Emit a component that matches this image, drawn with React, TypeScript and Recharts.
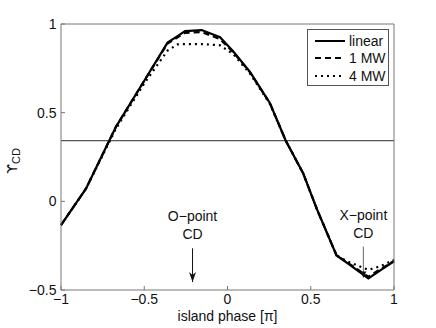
import { LineChart, Line, XAxis, YAxis, ReferenceLine, Legend } from 'recharts';

// island phase (units of pi) and Upsilon_CD for the three cases
const phase = [-1, -0.85, -0.67, -0.5, -0.36, -0.3, -0.255, -0.155, -0.045, 0.035, 0.135, 0.255, 0.35, 0.455, 0.535, 0.655, 0.72, 0.846, 0.92, 1];
const linear = [-0.134, 0.071, 0.42, 0.68, 0.895, 0.932, 0.96, 0.966, 0.925, 0.845, 0.73, 0.553, 0.342, 0.157, -0.04, -0.305, -0.349, -0.435, -0.388, -0.338];
const mw1 = [-0.134, 0.071, 0.42, 0.68, 0.89, 0.925, 0.95, 0.955, 0.915, 0.84, 0.728, 0.553, 0.342, 0.157, -0.04, -0.305, -0.345, -0.425, -0.382, -0.336];
const mw4 = [-0.134, 0.071, 0.41, 0.665, 0.85, 0.885, 0.887, 0.887, 0.88, 0.83, 0.72, 0.548, 0.342, 0.157, -0.04, -0.305, -0.338, -0.387, -0.365, -0.33];

const xTicks = [-1, -0.5, 0, 0.5, 1];
const yTicks = [-0.5, 0, 0.5, 1];
const threshold = 0.342;

// annotations: label lines, arrow x, arrow top / bottom
const oPoint = { lines: ['O\u2212point', 'CD'], x: -0.21, top: -0.265, bottom: -0.455 };
const xPoint = { lines: ['X\u2212point', 'CD'], x: 0.816, top: -0.255, bottom: -0.43 };

const series = [
  { key: 'linear', name: 'linear', dash: undefined },
  { key: 'mw1', name: '1 MW', dash: '6 4' },
  { key: 'mw4', name: '4 MW', dash: '2 4' },
];

const data = phase.map((p, i) => ({ x: p, linear: linear[i], mw1: mw1[i], mw4: mw4[i] }));

const FONT = '"Liberation Sans", Arial, sans-serif';
const fmt = (v: number) => String(v).replace('-', '\u2212');

const arrowShape = (ann: typeof oPoint, filled: boolean) => (props: any) => {
  const { x1, y1, x2, y2 } = props;
  return (
    <g>
      <text x={x1} y={y1 - 27} textAnchor="middle" fontSize={14} fontFamily={FONT} fill="#111">{ann.lines[0]}</text>
      <text x={x1} y={y1 - 9} textAnchor="middle" fontSize={14} fontFamily={FONT} fill="#111">{ann.lines[1]}</text>
      <line x1={x1} y1={y1} x2={x2} y2={y2} stroke={filled ? '#111' : '#666'} strokeWidth={1} />
      {filled ? (
        <polygon points={`${x2},${y2} ${x2 - 3.5},${y2 - 10} ${x2},${y2 - 7} ${x2 + 3.5},${y2 - 10}`} fill="#111" />
      ) : (
        <polygon points={`${x2},${y2} ${x2 - 3},${y2 - 6} ${x2 + 3},${y2 - 6}`} fill="#111" />
      )}
    </g>
  );
};

const YLabel = ({ viewBox }: any) => {
  const cx = viewBox.x + 16;
  const cy = viewBox.y + viewBox.height / 2 + 4;
  return (
    <text x={cx} y={cy} transform={`rotate(-90 ${cx} ${cy})`} textAnchor="middle" fontFamily='"DejaVu Sans", sans-serif' fontSize={14} fill="#111">
      {'\u03d2'}
      <tspan dy={3} fontFamily={FONT} fontSize={11}>CD</tspan>
    </text>
  );
};

const XLabel = ({ viewBox }: any) => (
  <text x={viewBox.x + viewBox.width / 2} y={viewBox.y + 31} textAnchor="middle" fontFamily={FONT} fontSize={14} fill="#111">
    island phase [{'\u03c0'}]
  </text>
);

const LegendBox = () => (
  <div style={{ border: '1px solid #555', background: '#fff', paddingTop: 2, fontFamily: FONT, fontSize: 14, color: '#111', width: 80 }}>
    {series.map((s) => (
      <div key={s.key} style={{ display: 'flex', alignItems: 'center', height: 17.5 }}>
        <svg width={35} height={10} style={{ marginLeft: 6 }}>
          <line x1={1} y1={5} x2={31} y2={5} stroke="#000" strokeWidth={2} strokeDasharray={s.dash} />
        </svg>
        <span>{s.name}</span>
      </div>
    ))}
  </div>
);

export default function App() {
  return (
    <div style={{ position: 'absolute', left: 0, top: 0, background: '#fff' }}>
      <LineChart width={436} height={328} data={data} margin={{ top: 23, right: 41, bottom: 8, left: 1 }}>
        <XAxis
          dataKey="x"
          type="number"
          domain={[-1, 1]}
          ticks={xTicks}
          tickFormatter={fmt}
          tickSize={-4}
          tickMargin={8}
          height={30}
          stroke="#777"
          tick={{ fill: '#111', fontSize: 14, fontFamily: FONT }}
          label={<XLabel />}
        />
        <XAxis xAxisId="top" orientation="top" type="number" domain={[-1, 1]} ticks={xTicks} tick={false} tickSize={-4} height={1} stroke="#777" />
        <YAxis
          type="number"
          domain={[-0.5, 1]}
          ticks={yTicks}
          tickFormatter={fmt}
          tickSize={-4}
          tickMargin={8.5}
          width={60}
          stroke="#777"
          tick={{ fill: '#111', fontSize: 14, fontFamily: FONT }}
          label={<YLabel />}
        />
        <YAxis yAxisId="right" orientation="right" type="number" domain={[-0.5, 1]} ticks={yTicks} tick={false} tickSize={-4} width={1} stroke="#777" />
        <ReferenceLine y={threshold} stroke="#555" strokeWidth={1.2} />
        {series.map((s) => (
          <Line
            key={s.key}
            dataKey={s.key}
            name={s.name}
            stroke="#000"
            strokeWidth={2.2}
            strokeDasharray={s.dash}
            dot={false}
            isAnimationActive={false}
          />
        ))}
        <ReferenceLine
          segment={[{ x: oPoint.x, y: oPoint.top }, { x: oPoint.x, y: oPoint.bottom }]}
          shape={arrowShape(oPoint, true)}
        />
        <ReferenceLine
          segment={[{ x: xPoint.x, y: xPoint.top }, { x: xPoint.x, y: xPoint.bottom }]}
          shape={arrowShape(xPoint, false)}
        />
        <Legend
          layout="vertical"
          align="center"
          verticalAlign="middle"
          content={<LegendBox />}
          wrapperStyle={{ position: 'absolute', top: 29, left: 307, width: 83 }}
        />
      </LineChart>
    </div>
  );
}
